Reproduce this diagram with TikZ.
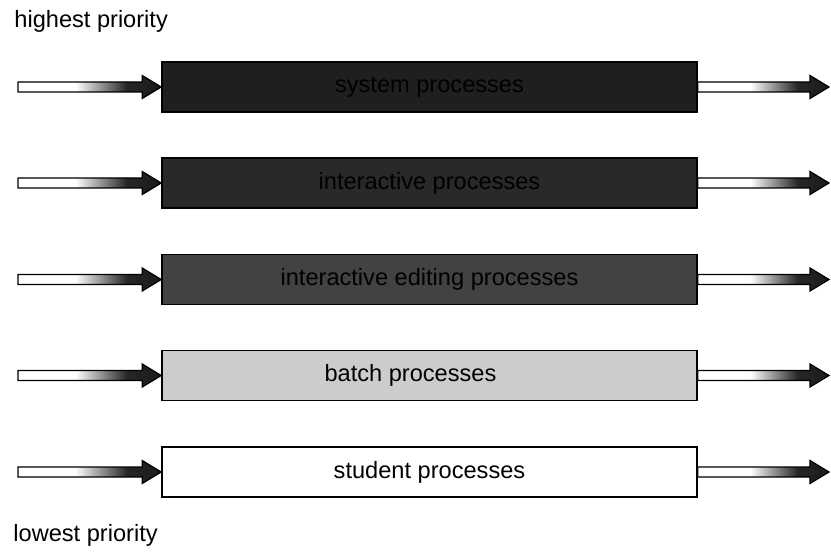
\documentclass[tikz,border=0pt]{standalone}
\usepackage{fontspec}
\setmainfont{Liberation Sans}
\usetikzlibrary{calc}
% shaft goes from white to black towards the tip
\pgfdeclarehorizontalshading{feedshade}{100bp}{color(0bp)=(white); color(25bp)=(white);
  color(45bp)=(white); color(63bp)=(black!85); color(100bp)=(black)}
\tikzset{
  queue/.style={
    rectangle, draw=black, line width=0.8pt,
    minimum width=267.5pt, minimum height=25pt, inner sep=0pt,
    font=\fontsize{11.8}{14}\selectfont, text=black
  },
  sysq/.style={queue, fill=black!88},
  interq/.style={queue, fill=black!84},
  editq/.style={queue, fill=black!74},
  batchq/.style={queue, fill=black!20},
  studq/.style={queue, fill=white},
  prio/.style={font=\fontsize{11.8}{14}\selectfont, anchor=west, inner sep=0pt},
  fat/.style={draw=black, line width=0.6pt, shade, shading=feedshade},
}
\newcommand{\feed}[2]{%
  \path[fat] ($(#1)+(0,-5)$) -- ($(#2)+(-19,-5)$) -- ($(#2)+(-19,-11.5)$) -- (#2)
    -- ($(#2)+(-19,11.5)$) -- ($(#2)+(-19,5)$) -- ($(#1)+(0,5)$) -- cycle;}

\begin{document}
\begin{tikzpicture}[x=0.5pt, y=-0.5pt]
  \useasboundingbox (0,0) rectangle (831,556);

  \node[prio] (high) at (14,21) {highest priority};
  \node[prio] (low) at (13,535) {lowest priority};

  \node[sysq] (sysq) at (429.5,87) {system processes};
  \node[interq] (interq) at (429.5,183) {interactive processes};
  \node[editq] (editq) at (429.5,279.5) {interactive editing processes};
  \node[batchq] (batchq) at (429.5,375.5) {\hspace*{-19pt}batch processes};
  \node[studq] (studq) at (429.5,472) {student processes};

  \coordinate (in1) at (18,87);    \coordinate (out1) at (829,87);
  \coordinate (in2) at (18,183);   \coordinate (out2) at (829,183);
  \coordinate (in3) at (18,279.5); \coordinate (out3) at (829,279.5);
  \coordinate (in4) at (18,375.5); \coordinate (out4) at (829,375.5);
  \coordinate (in5) at (18,472);   \coordinate (out5) at (829,472);

  \feed{in1}{sysq.west}   \feed{sysq.east}{out1}
  \feed{in2}{interq.west} \feed{interq.east}{out2}
  \feed{in3}{editq.west}  \feed{editq.east}{out3}
  \feed{in4}{batchq.west} \feed{batchq.east}{out4}
  \feed{in5}{studq.west}  \feed{studq.east}{out5}

\end{tikzpicture}
\end{document}
